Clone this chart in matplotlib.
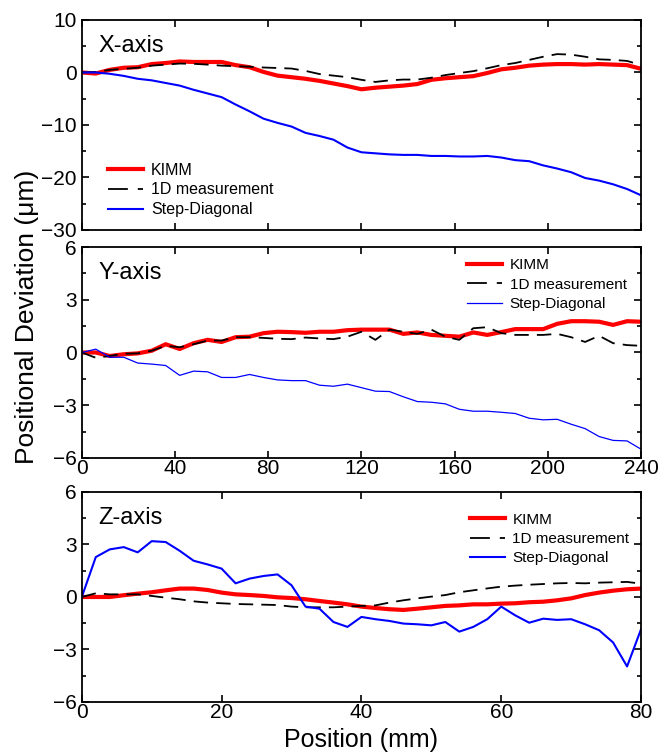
import numpy as np
import matplotlib
matplotlib.use("Agg")
import matplotlib.pyplot as plt
from matplotlib.lines import Line2D
from matplotlib.ticker import MultipleLocator

plt.rcParams['font.family'] = ['Liberation Sans', 'DejaVu Sans']

# X-axis panel, positions 0..240 mm in 6 mm steps
x_pos = np.arange(0, 241, 6)
x_kimm = [0, -0.2, 0.5, 0.9, 1.0, 1.6, 1.8, 2.1, 2.0, 2.0, 2.0, 1.4, 1.0, 0.1, -0.6,
          -0.9, -1.2, -1.6, -2.1, -2.6, -3.2, -2.9, -2.7, -2.5, -2.2, -1.4, -1.1, -0.9,
          -0.7, -0.1, 0.6, 0.9, 1.3, 1.5, 1.6, 1.6, 1.5, 1.6, 1.5, 1.4, 0.7]
x_1d = [0, 0.1, 0.5, 0.7, 0.9, 1.3, 1.5, 1.7, 1.65, 1.5, 1.3, 1.2, 1.1, 0.95, 0.85,
        0.75, 0.3, -0.3, -0.6, -0.9, -1.4, -1.8, -1.5, -1.35, -1.35, -1.0, -0.5, -0.1,
        0.25, 0.8, 1.4, 1.8, 2.4, 3.0, 3.5, 3.4, 3.0, 2.5, 2.4, 2.2, 1.4]
x_step = [0, 0, -0.25, -0.65, -1.2, -1.5, -2.0, -2.5, -3.3, -4.0, -4.7, -6.1, -7.4,
          -8.8, -9.6, -10.3, -11.5, -12.1, -12.8, -14.3, -15.2, -15.4, -15.6, -15.7,
          -15.7, -15.9, -15.9, -16.0, -16.0, -15.9, -16.2, -16.7, -16.9, -17.7, -18.3,
          -19.0, -20.1, -20.6, -21.3, -22.2, -23.4]

# Y-axis panel, same positions
y_pos = np.arange(0, 241, 6)
y_kimm = [0, 0, -0.2, -0.1, -0.05, 0.1, 0.47, 0.2, 0.53, 0.72, 0.6, 0.87, 0.9, 1.1,
          1.18, 1.16, 1.12, 1.18, 1.18, 1.27, 1.3, 1.3, 1.3, 1.06, 1.14, 1.0, 0.95, 0.9,
          1.14, 1.0, 1.16, 1.33, 1.33, 1.33, 1.63, 1.78, 1.78, 1.75, 1.57, 1.78, 1.75]
y_1d = [0, -0.3, -0.2, -0.07, -0.05, 0.1, 0.38, 0.3, 0.47, 0.68, 0.68, 0.87, 0.87,
        0.83, 0.78, 0.76, 0.85, 0.8, 0.76, 0.9, 1.18, 0.72, 1.3, 1.18, 1.06, 1.3, 0.9,
        0.72, 1.38, 1.44, 1.1, 1.0, 1.0, 1.0, 1.06, 0.87, 0.6, 0.95, 0.53, 0.42, 0.38]
y_step = [0, 0.19, -0.27, -0.27, -0.6, -0.66, -0.74, -1.3, -1.06, -1.1, -1.42, -1.42,
          -1.25, -1.42, -1.56, -1.6, -1.6, -1.86, -1.92, -1.8, -2.0, -2.2, -2.22, -2.52,
          -2.79, -2.83, -2.92, -3.23, -3.34, -3.34, -3.4, -3.47, -3.74, -3.83, -3.8,
          -4.08, -4.33, -4.78, -5.0, -5.03, -5.5]

# Z-axis panel, positions 0..80 mm in 2 mm steps
z_pos = np.arange(0, 81, 2)
z_kimm = [0, 0, 0, 0.1, 0.19, 0.27, 0.38, 0.48, 0.48, 0.4, 0.25, 0.15, 0.11, 0.06,
          -0.02, -0.06, -0.13, -0.23, -0.32, -0.42, -0.55, -0.63, -0.7, -0.74, -0.67,
          -0.59, -0.51, -0.48, -0.42, -0.42, -0.38, -0.36, -0.3, -0.27, -0.19, -0.08,
          0.11, 0.25, 0.36, 0.44, 0.48]
z_1d = [0, 0.21, 0.15, 0.15, 0.15, 0.06, -0.04, -0.13, -0.25, -0.32, -0.36, -0.4,
        -0.42, -0.44, -0.46, -0.55, -0.59, -0.59, -0.59, -0.55, -0.51, -0.48, -0.32,
        -0.19, -0.08, 0.02, 0.11, 0.27, 0.38, 0.49, 0.59, 0.65, 0.7, 0.74, 0.78, 0.8,
        0.78, 0.82, 0.84, 0.86, 0.76]
z_step = [0, 2.28, 2.72, 2.85, 2.55, 3.19, 3.14, 2.64, 2.07, 1.86, 1.62, 0.78, 1.05,
          1.2, 1.29, 0.67, -0.55, -0.67, -1.43, -1.71, -1.14, -1.27, -1.37, -1.52, -1.56,
          -1.62, -1.43, -1.98, -1.71, -1.27, -0.55, -1.05, -1.47, -1.24, -1.31, -1.27,
          -1.56, -1.9, -2.6, -3.97, -1.84]

series_labels = ['KIMM', '1D measurement', 'Step-Diagonal']

fig = plt.figure(figsize=(6.65, 7.54), dpi=100)
left, width = 0.123, 0.841
ax1 = fig.add_axes([left, 0.695, width, 0.2785])
ax2 = fig.add_axes([left, 0.3926, width, 0.2798])
ax3 = fig.add_axes([left, 0.069, width, 0.2785])

panels = [
    (ax1, x_pos, x_kimm, x_1d, x_step, 'X-axis', (0, 240), 40, (-30, 10), 10, 5, 1.5),
    (ax2, y_pos, y_kimm, y_1d, y_step, 'Y-axis', (0, 240), 40, (-6, 6), 3, 1.5, 0.9),
    (ax3, z_pos, z_kimm, z_1d, z_step, 'Z-axis', (0, 80), 20, (-6, 6), 3, 1.5, 1.5),
]
legend_anchor = {ax2: (0.985, 0.975), ax3: (0.99, 0.93)}

for ax, xs, k, d, s, name, xlim, xstep, ylim, ystep, yminor, blw in panels:
    ax.plot(xs, k, color='#ff0000', lw=3.0)
    ax.plot(xs, d, color='black', lw=1.3, dashes=(8, 4.5))
    ax.plot(xs, s, color='#0000ff', lw=blw)
    ax.set_xlim(*xlim)
    ax.set_ylim(*ylim)
    ax.xaxis.set_major_locator(MultipleLocator(xstep))
    ax.yaxis.set_major_locator(MultipleLocator(ystep))
    ax.yaxis.set_minor_locator(MultipleLocator(yminor))
    ax.tick_params(which='both', direction='in', top=True, right=True, labelsize=15, width=1.2)
    ax.tick_params(which='major', length=5)
    ax.tick_params(which='minor', length=3)
    ax.tick_params(axis='x', pad=1)
    for sp in ax.spines.values():
        sp.set_linewidth(1.3)
    ax.text(0.03, 0.93, name, transform=ax.transAxes, fontsize=17, va='top', ha='left')

    # legend proxies so the dashed handle reads "long dash, short dash"
    handles = [
        Line2D([], [], color='#ff0000', lw=3.0),
        Line2D([], [], color='black', lw=1.3, dashes=(11, 5.5)),
        Line2D([], [], color='#0000ff', lw=blw),
    ]
    if ax is ax1:
        ax.legend(handles, series_labels, loc='lower left', bbox_to_anchor=(0.035, 0.03),
                  frameon=False, fontsize=11.5, handlelength=2.2, handletextpad=0.5,
                  labelspacing=0.3, borderaxespad=0.0)
    else:
        ax.legend(handles, series_labels, loc='upper right', bbox_to_anchor=legend_anchor[ax],
                  frameon=False, fontsize=11, handlelength=2.3, handletextpad=0.5,
                  labelspacing=0.35, borderaxespad=0.0)

ax1.tick_params(axis='x', labelbottom=False)
ax3.set_xlabel('Position (mm)', fontsize=18, labelpad=4)
fig.text(0.04, 0.58, 'Positional Deviation (\u03bcm)', rotation=90, fontsize=19,
         ha='center', va='center')

fig.savefig('out.png', dpi=100)
